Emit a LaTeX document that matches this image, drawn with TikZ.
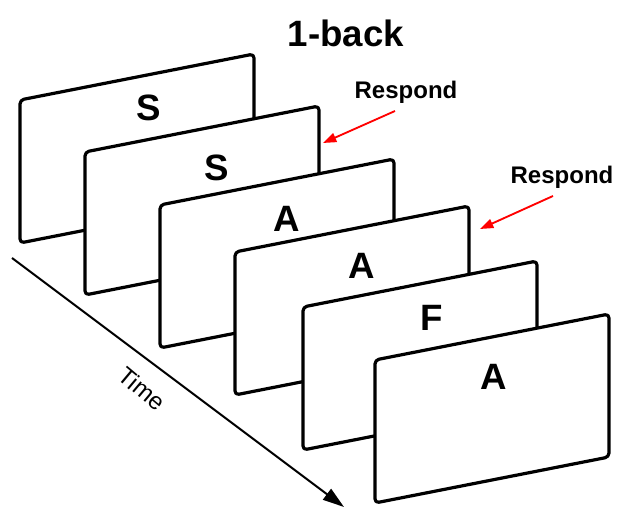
\documentclass[tikz,border=0pt]{standalone}
\usepackage{fontspec}
\setmainfont{Liberation Sans}
\usetikzlibrary{arrows.meta}
\begin{document}
\begin{tikzpicture}[x=0.75pt,y=-0.75pt,
  card/.style={draw=black,fill=white,line width=2.4pt,rounded corners=3pt,line join=round},
  letter/.style={inner sep=0pt,font=\fontsize{27.5}{30}\selectfont\bfseries},
  resp/.style={inner sep=0pt,font=\fontsize{18}{20}\selectfont\bfseries},
  redarrow/.style={draw=red,line width=1.4pt,-{Triangle[length=10pt,width=7pt]}},
  timearrow/.style={draw=black,line width=1.5pt,-{Triangle[length=16pt,width=10pt]}}]
\useasboundingbox (0,0) rectangle (619,509);

% title
\node[inner sep=0pt,font=\fontsize{27.5}{30}\selectfont\bfseries] (title) at (346,33) {1-back};

% time axis
\coordinate (t0) at (12,258);
\coordinate (t1) at (344,507);
\draw[timearrow] (t0) -- (t1);
\node[inner sep=0pt,font=\fontsize{18}{20}\selectfont,rotate=-40] (time) at (142,389) {Time};

% stimulus cards, back to front
\foreach \x/\y/\n in {20/100/c1,85/152/c2,160/205/c3,235/252/c4,303/307/c5,375/360/c6}{
  \coordinate (\n) at (\x,\y);
  \draw[card] (\n) -- ++(234,-46) -- ++(0,143) -- ++(-234,46) -- cycle;
}

% letters on the cards
\node[letter] (l1) at (149,108) {S};
\node[letter] (l2) at (217,168) {S};
\node[letter] (l3) at (287,219) {A};
\node[letter] (l4) at (362,266) {A};
\node[letter] (l5) at (432,318) {F};
\node[letter] (l6) at (494,377) {A};

% response cues
\node[resp] (r1) at (406,92) {Respond};
\node[resp] (r2) at (562,177) {Respond};
\coordinate (r1s) at (395,111);
\coordinate (r1e) at (323,143);
\coordinate (r2s) at (553,196);
\coordinate (r2e) at (480,229);
\draw[redarrow] (r1s) -- (r1e);
\draw[redarrow] (r2s) -- (r2e);
\end{tikzpicture}
\end{document}
